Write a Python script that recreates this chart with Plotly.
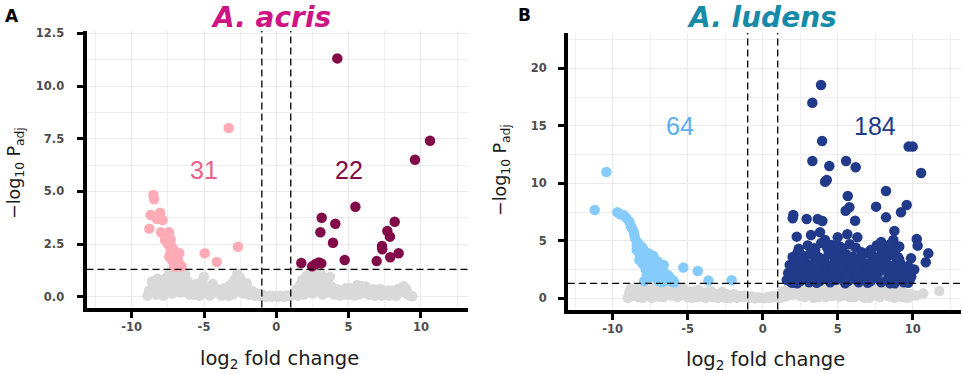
import plotly.graph_objects as go

# ---------------- data ----------------
a_ns = [(-8.9,0.05),(-8.7,0.2),(-8.6,0.72),(-8.5,0.45),(-8.3,0.1),(-8.1,0.35),(-7.9,0.6),(-7.8,0.05),
        (-7.6,0.9),(-7.5,0.3),(-7.4,1.1),(-7.3,0.6),(-7.2,0.15),(-7.1,0.85),(-7.0,1.2),(-6.9,0.4),
        (-6.8,1.0),(-6.7,0.7),(-6.6,0.2),(-6.5,0.9),(-6.4,0.5),(-6.3,1.05),(-6.2,0.3),(-6.1,0.7),
        (-6.0,0.1),(-5.8,0.45),(-5.6,0.25),(-5.5,0.6),(-5.3,0.05),(-5.1,0.75),(-5.0,0.95),(-4.9,0.4),
        (-4.7,0.15),(-4.5,0.5),(-4.4,0.62),(-4.2,0.2),(-4.0,0.35),(-3.8,0.05),(-3.6,0.4),(-3.4,0.2),
        (-3.2,0.55),(-3.0,0.1),(-2.9,0.8),(-2.8,0.35),(-2.7,1.1),(-2.6,0.6),(-2.5,0.9),(-2.4,0.2),
        (-2.2,0.45),(-2.05,0.64),(-1.9,0.1),(-1.7,0.3),(-1.5,0.05),(-1.3,0.15),(-1.1,0.02),(-0.9,0.08),
        (-0.7,0.0),(-0.5,0.05),(-0.3,0.0),(-0.1,0.03),(0.1,0.0),(0.3,0.04),(0.5,0.0),(0.7,0.06),
        (0.9,0.02),(1.1,0.1),(1.3,0.2),(1.5,0.05),(1.6,0.5),(1.7,0.25),(1.8,0.8),(1.9,0.1),(2.0,0.6),
        (2.1,1.0),(2.2,0.35),(2.3,0.75),(2.4,1.2),(2.5,0.15),(2.6,0.9),(2.7,0.5),(2.8,1.1),(2.9,0.3),
        (3.0,0.7),(3.1,1.05),(3.2,0.1),(3.3,0.55),(3.4,0.85),(3.5,0.2),(3.6,0.45),(3.7,0.95),(3.8,0.5),
        (4.0,0.1),(4.2,0.35),(4.4,0.05),(4.6,0.25),(4.8,0.4),(5.0,0.1),(5.2,0.3),(5.4,0.05),(5.6,0.55),
        (5.8,0.2),(6.0,0.4),(6.2,0.48),(6.4,0.1),(6.6,0.3),(6.8,0.05),(7.0,0.2),(7.2,0.35),(7.4,0.1),
        (7.6,0.25),(7.8,0.05),(8.0,0.3),(8.2,0.15),(8.4,0.35),(8.6,0.4),(8.8,0.5),(8.9,0.2),(9.1,0.1),
        (9.4,0.02),
        (-8.8,0.3),(-8.4,0.6),(-8.2,0.85),(-8.0,0.15),(-7.7,0.4),(-7.6,0.65),(-7.3,0.95),(-7.0,0.55),
        (-6.9,0.9),(-6.7,0.25),(-6.5,0.65),(-6.3,0.25),(-6.0,0.55),(-5.9,0.3),(-5.7,0.1),(-5.4,0.35),
        (-5.2,0.5),(-4.8,0.25),(-4.6,0.05),(-4.3,0.4),(-3.9,0.25),(-3.7,0.15),(-3.5,0.35),(-3.3,0.05),
        (-3.1,0.3),(-2.3,0.15),(-2.0,0.3),(-1.8,0.2),(-1.6,0.1),(1.4,0.35),(1.7,0.6),(2.0,0.2),
        (2.3,0.45),(2.6,0.6),(2.9,0.85),(3.2,0.4),(3.5,0.7),(3.9,0.3),(4.1,0.2),(4.3,0.15),(4.5,0.3),
        (4.7,0.1),(4.9,0.25),(5.1,0.4),(5.3,0.15),(5.5,0.3),(5.7,0.1),(5.9,0.5),(6.1,0.2),(6.3,0.25),
        (6.5,0.15),(6.7,0.35),(6.9,0.1),(7.1,0.3),(7.3,0.05),(7.5,0.2),(7.7,0.3),(7.9,0.1),(8.1,0.25),
        (8.3,0.05),(8.5,0.2),(8.7,0.3),(9.0,0.35),(9.25,0.05)]

a_down = [(-3.29,8.01),(-2.65,2.37),(-4.95,2.06),(-4.12,1.65),(-8.50,4.83),(-8.45,4.62),(-8.69,3.88),
          (-8.04,3.99),(-8.27,3.70),(-7.86,3.64),(-8.78,3.23),(-7.97,3.06),(-7.42,3.06),(-7.58,2.85),
          (-7.31,2.72),(-7.47,2.48),(-7.24,2.37),(-7.12,2.25),(-7.40,1.90),(-7.01,1.98),(-6.85,1.87),
          (-6.78,1.71),(-6.94,1.58),(-6.66,1.50),(-7.17,1.69),(-7.70,2.69),(-7.31,2.14),(-6.71,2.06),
          (-6.89,1.43),(-6.55,1.43),(-7.08,1.43)]

a_up = [(4.22,11.31),(10.63,7.40),(9.59,6.50),(5.47,4.27),(3.14,3.75),(4.08,3.46),(8.19,3.56),
        (3.05,3.06),(7.68,3.12),(7.86,2.85),(3.92,2.56),(7.31,2.41),(7.33,2.25),(8.46,2.06),
        (7.88,1.87),(4.73,1.74),(6.94,1.69),(1.73,1.60),(3.11,1.58),(2.94,1.62),(2.71,1.55),(2.48,1.44)]

b_ns = [(-9.0,0.05),(-8.8,0.85),(-8.7,0.3),(-8.5,0.6),(-8.3,0.1),(-8.1,0.9),(-7.9,0.45),(-7.7,0.75),
        (-7.5,0.2),(-7.3,1.0),(-7.1,0.55),(-6.9,0.15),(-6.7,0.8),(-6.5,0.4),(-6.3,1.05),(-6.1,0.25),
        (-5.9,0.7),(-5.7,0.1),(-5.5,0.5),(-5.3,0.85),(-5.1,0.2),(-4.9,0.6),(-4.7,0.05),(-4.5,0.4),
        (-4.3,0.75),(-4.1,0.15),(-3.9,0.5),(-3.7,0.3),(-3.5,0.65),(-3.3,0.1),(-3.1,0.4),(-2.9,0.2),
        (-2.7,0.55),(-2.5,0.05),(-2.3,0.3),(-2.1,0.15),(-1.9,0.35),(-1.7,0.05),(-1.5,0.2),(-1.3,0.1),
        (-1.1,0.25),(-0.9,0.05),(-0.7,0.15),(-0.5,0.0),(-0.3,0.1),(-0.1,0.05),(0.1,0.0),(0.3,0.12),
        (0.5,0.05),(0.7,0.2),(0.9,0.1),(1.1,0.3),(1.3,0.6),(1.5,0.15),(1.7,0.9),(1.9,0.4),(2.1,1.1),
        (2.3,0.7),(2.5,0.2),(2.7,0.95),(2.9,0.5),(3.1,1.15),(3.3,0.3),(3.5,0.8),(3.7,0.1),(3.9,1.0),
        (4.1,0.6),(4.3,0.25),(4.5,0.9),(4.7,0.45),(4.9,1.1),(5.1,0.15),(5.3,0.7),(5.5,1.0),(5.7,0.35),
        (5.9,0.85),(6.1,0.1),(6.3,0.6),(6.5,1.05),(6.7,0.3),(6.9,0.8),(7.1,0.05),(7.3,0.5),(7.5,0.95),
        (7.7,0.2),(7.9,0.7),(8.1,1.0),(8.3,0.4),(8.5,0.15),(8.7,0.8),(8.9,0.3),(9.1,0.6),(9.3,0.1),
        (9.5,0.45),(9.7,0.2),(9.9,0.35),(10.2,0.25),(10.71,0.43),(11.77,0.64),
        (-8.9,0.5),(-8.6,0.2),(-8.4,0.8),(-8.2,0.4),(-8.0,0.05),(-7.8,0.3),(-7.6,0.6),(-7.4,0.05),
        (-7.2,0.35),(-7.0,0.85),(-6.8,0.4),(-6.6,0.1),(-6.4,0.7),(-6.2,0.55),(-6.0,0.3),(-5.8,0.9),
        (-5.6,0.2),(-5.4,0.35),(-5.2,0.55),(-5.0,0.1),(-4.8,0.3),(-4.6,0.6),(-4.4,0.1),(-4.2,0.45),
        (-4.0,0.25),(-3.8,0.05),(-3.6,0.2),(-3.4,0.4),(-3.2,0.25),(-3.0,0.05),(-2.8,0.3),(-2.6,0.15),
        (-2.4,0.35),(-2.2,0.05),(-2.0,0.2),(1.2,0.05),(1.4,0.4),(1.6,0.2),(1.8,0.65),(2.0,0.3),
        (2.2,0.5),(2.4,0.9),(2.6,0.4),(2.8,0.1),(3.0,0.75),(3.2,0.5),(3.4,0.05),(3.6,0.55),(3.8,0.3),
        (4.0,0.7),(4.2,0.1),(4.4,0.5),(4.6,0.2),(4.8,0.75),(5.0,0.4),(5.2,0.95),(5.4,0.25),(5.6,0.6),
        (5.8,0.1),(6.0,0.5),(6.2,0.8),(6.4,0.25),(6.6,0.55),(6.8,0.05),(7.0,0.4),(7.2,0.75),(7.4,0.25),
        (7.6,0.6),(7.8,0.1),(8.0,0.4),(8.2,0.65),(8.4,0.2),(8.6,0.5),(8.8,0.05),(9.0,0.35),(9.2,0.7),
        (9.4,0.25),(9.6,0.05),(9.8,0.15)]

b_down = [(-10.42,10.98),(-11.2,7.68),(-9.69,7.48),(-9.29,7.25),(-8.89,6.67),(-8.73,6.14),(-8.56,5.51),
          (-8.4,4.64),(-8.0,4.35),(-8.22,3.33),(-7.84,3.77),(-7.62,3.04),(-7.29,3.48),(-7.73,2.03),
          (-7.07,2.75),(-6.84,2.32),(-6.62,2.03),(-6.29,1.59),(-6.07,1.45),(-5.29,2.67),(-4.33,2.38),
          (-3.62,1.54),(-2.07,1.57),(-9.5,7.3),(-9.1,7.0),(-8.8,6.3),(-8.6,5.8),(-8.5,5.2),(-8.3,4.8),
          (-8.1,4.5),(-7.9,4.1),(-7.8,3.6),(-7.6,3.9),(-7.5,3.3),(-7.4,2.9),(-7.3,2.6),(-7.2,2.2),
          (-7.1,3.0),(-7.0,2.5),(-6.9,2.1),(-6.8,1.8),(-6.7,2.6),(-6.6,2.3),(-6.5,1.9),(-6.4,1.6),
          (-7.7,1.7),(-7.6,2.3),(-7.8,2.5),(-8.0,3.0),(-8.2,3.8),(-7.4,1.9),(-6.95,1.5),(-6.3,2.0),
          (-6.0,1.6),(-5.9,1.4),(-8.4,4.2),(-7.3,3.7),(-7.0,3.2),(-6.6,2.9),(-6.2,1.8),(-7.9,1.5),
          (-6.7,1.4),(-6.9,2.8),(-7.5,2.0)]

b_up = [(3.89,18.55),(3.31,17.01),(3.96,13.68),(9.73,13.19),(10.0,13.19),(3.31,11.94),(4.44,11.51),
        (5.56,11.94),(6.2,11.39),(10.56,10.9),(4.16,10.14),(4.27,10.29),(8.22,9.33),(5.67,8.9),
        (9.6,8.12),(7.56,7.97),(5.78,7.91),(5.53,7.62),(9.22,7.48),(2.04,7.25),(2.0,6.96),(2.93,6.9),
        (3.67,6.9),(3.98,6.72),(6.16,6.75),(8.22,7.04),(8.78,5.86),(3.82,5.74),(10.27,5.16),
        (10.33,4.58),(2.27,5.36),(3.22,5.51),(5.0,5.3),(5.64,5.57),(6.31,5.3),(11.04,3.91),
        (10.87,3.13),(9.89,3.48),(8.49,1.3),(9.6,1.6),(9.2,2.99),(8.67,3.91),(8.71,5.07),(7.71,4.49),
        (3.44,4.35),(2.49,3.91),(4.16,5.07),(4.6,4.64),(5.16,4.49),
        (1.6,1.6),(1.9,1.4),(2.2,1.7),(2.5,1.5),(2.8,1.8),(3.1,1.4),(3.4,1.6),(3.8,1.5),(4.1,1.7),
        (4.5,1.4),(4.9,1.6),(5.3,1.8),(5.7,1.5),(6.1,1.7),(6.4,1.4),(6.8,1.6),(7.2,1.5),(7.5,1.8),
        (7.9,1.4),(8.3,1.6),(8.6,1.5),(9.0,1.7),(9.4,1.4),(9.8,1.6),
        (1.7,2.2),(2.0,2.4),(2.4,2.0),(2.7,2.3),(3.0,2.1),(3.3,2.5),(3.6,2.2),(4.0,2.0),(4.3,2.4),
        (4.6,2.3),(5.0,2.1),(5.4,2.2),(5.8,2.5),(6.2,2.0),(6.6,2.3),(7.0,2.4),(7.3,2.1),(7.7,2.2),
        (8.0,2.5),(8.4,2.0),(8.8,2.3),(9.2,2.1),(9.6,2.4),
        (1.8,2.9),(2.1,3.1),(2.6,2.7),(2.9,3.0),(3.2,2.8),(3.5,3.2),(3.9,2.9),(4.2,3.0),(4.5,2.7),
        (4.8,3.1),(5.1,2.8),(5.5,3.0),(5.9,2.9),(6.3,2.7),(6.7,3.1),(7.1,2.8),(7.4,3.2),(7.8,2.9),
        (8.1,3.0),(8.5,2.8),(8.9,3.1),(9.3,2.7),
        (2.0,3.6),(2.3,3.9),(2.7,3.5),(3.1,3.8),(3.4,4.0),(3.7,3.6),(4.1,3.4),(4.4,3.9),(4.7,3.7),
        (5.2,3.5),(5.6,3.8),(6.0,3.6),(6.5,3.4),(6.9,3.9),(7.3,3.7),(7.6,3.5),(8.0,4.0),(8.3,3.6),
        (8.7,3.8),(9.1,3.4),
        (2.4,4.3),(3.0,4.6),(3.5,4.2),(3.9,4.8),(4.3,4.4),(4.8,4.5),(5.3,4.3),(5.8,4.7),(6.2,4.4),
        (7.2,4.2),(7.6,4.6),(7.9,4.9),(8.2,4.4),(8.5,4.7),(8.9,4.3),
        (2.0,1.35),(2.3,1.3),(3.6,1.35),(5.5,1.3),(7.0,1.35),(8.8,1.3),(9.7,1.35),(1.9,2.0),
        (2.6,3.3),(3.2,2.4),(4.0,2.6),(4.4,1.9),(5.2,2.6),(5.6,2.0),(6.0,3.1),(6.4,2.5),(6.8,1.9),
        (7.4,2.7),(7.7,3.3),(8.2,2.6),(8.6,2.2),(9.0,3.6),(9.4,2.2),(9.7,2.8),(9.9,1.9),(10.1,2.5),
        (1.8,1.9),(2.2,2.7),(3.7,2.6),(4.9,3.8),(5.4,3.4),(6.6,4.0),(7.0,3.0),(7.9,3.8),(8.4,4.2),
        (9.1,4.5)]

labels_a = [("31", -5.0, 6.0), ("22", 5.0, 6.0)]
labels_b = [("64", -5.5, 15.0), ("184", 7.5, 15.0)]

titles = ["A. acris", "A. ludens"]
x_ticks = [-10, -5, 0, 5, 10]
x_ticktext = ["-10", "-5", "0", "5", "10"]
a_y_ticks = [0.0, 2.5, 5.0, 7.5, 10.0, 12.5]
a_y_ticktext = ["0.0", "2.5", "5.0", "7.5", "10.0", "12.5"]
b_y_ticks = [0, 5, 10, 15, 20]
b_y_ticktext = ["0", "5", "10", "15", "20"]
fc_cut = 1.0
p_cut = 1.301

# ---------------- styling ----------------
W, H = 962, 374
FONT = "Liberation Sans, Arial, sans-serif"
WIDE = "DejaVu Sans, Verdana, sans-serif"
GREY = "#D9D9D9"
COL_A_DOWN, COL_A_UP = "#FFABB5", "#820A48"
COL_B_DOWN, COL_B_UP = "#85CCFD", "#213B8A"
LAB_A = ["#E4638C", "#820A48"]
LAB_B = ["#5AAEEE", "#213B8A"]
TITLE_COL = ["#CC1482", "#168AA6"]

def xs(p): return [v[0] for v in p]
def ys(p): return [v[1] for v in p]

fig = go.Figure()
MS = 10.5

def add(points, color, xa, ya):
    fig.add_trace(go.Scatter(x=xs(points), y=ys(points), mode="markers",
                             marker=dict(size=MS, color=color, line=dict(width=0)),
                             xaxis=xa, yaxis=ya, showlegend=False, hoverinfo="skip"))

add(a_ns, GREY, "x", "y")
add(a_down, COL_A_DOWN, "x", "y")
add(a_up, COL_A_UP, "x", "y")
add(b_ns, GREY, "x2", "y2")
add(b_down, COL_B_DOWN, "x2", "y2")
add(b_up, COL_B_UP, "x2", "y2")

# pixel calibration of the two panels (layout geometry)
A = dict(l=86.5, r=468, t=31, b=307.5, x0=276.3, sx=14.46, y0=296.7, sy=21.07)
B = dict(l=568, r=961, t=33, b=309.5, x0=762.7, sx=15.0, y0=298.3, sy=11.5)

def xr(P): return [(P["l"] - P["x0"]) / P["sx"], (P["r"] - P["x0"]) / P["sx"]]
def yr(P): return [(P["y0"] - P["b"]) / P["sy"], (P["y0"] - P["t"]) / P["sy"]]
def xd(P): return [P["l"] / W, P["r"] / W]
def yd(P): return [1 - P["b"] / H, 1 - P["t"] / H]

tickfont = dict(family=WIDE, size=11.5, color="#4D4D4D", weight="bold")
common = dict(showline=True, linewidth=4, linecolor="black", ticks="outside", ticklen=6,
              tickwidth=3, tickcolor="black", showgrid=True, gridcolor="#EAEAEA", gridwidth=1,
              zeroline=False, tickfont=tickfont, fixedrange=True, automargin=False,
              tickmode="array")
minor_grid = dict(showgrid=True, gridcolor="#EFEFEF", ticks="")

fig.update_layout(
    template="none",
    width=W, height=H, margin=dict(l=0, r=0, t=0, b=0, pad=0),
    paper_bgcolor="white", plot_bgcolor="white",
    xaxis=dict(domain=xd(A), range=xr(A), anchor="y", tickvals=x_ticks, ticktext=x_ticktext,
               minor=dict(dtick=2.5, tick0=0, **minor_grid), **common),
    yaxis=dict(domain=yd(A), range=yr(A), anchor="x", tickvals=a_y_ticks, ticktext=a_y_ticktext,
               ticklabelstandoff=10, minor=dict(dtick=1.25, tick0=0, **minor_grid), **common),
    xaxis2=dict(domain=xd(B), range=xr(B), anchor="y2", tickvals=x_ticks, ticktext=x_ticktext,
                minor=dict(dtick=2.5, tick0=0, **minor_grid), **common),
    yaxis2=dict(domain=yd(B), range=yr(B), anchor="x2", tickvals=b_y_ticks, ticktext=b_y_ticktext,
                ticklabelstandoff=9, minor=dict(dtick=2.5, tick0=0, **minor_grid), **common),
)

# threshold lines
dash = dict(color="black", width=1.3, dash="7px,4px")
for xa, ya in (("x", "y"), ("x2", "y2")):
    for v in (-fc_cut, fc_cut):
        fig.add_shape(type="line", xref=xa, yref=ya + " domain", x0=v, x1=v, y0=0, y1=1,
                      line=dash, layer="above")
    fig.add_shape(type="line", xref=xa + " domain", yref=ya, x0=0, x1=1, y0=p_cut, y1=p_cut,
                  line=dash, layer="above")

# count labels
for (t, x, y), c in zip(labels_a, LAB_A):
    fig.add_annotation(x=x, y=y, xref="x", yref="y", text=t, showarrow=False,
                       font=dict(family=FONT, size=25, color=c))
for (t, x, y), c in zip(labels_b, LAB_B):
    fig.add_annotation(x=x, y=y, xref="x2", yref="y2", text=t, showarrow=False,
                       font=dict(family=FONT, size=25, color=c))

def pann(text, x, y, size, color, angle=0, family=WIDE, yanchor="middle", **kw):
    fig.add_annotation(x=x / W, y=1 - y / H, xref="paper", yref="paper", text=text,
                       showarrow=False, textangle=angle, xanchor="center", yanchor=yanchor,
                       borderpad=0, font=dict(family=family, size=size, color=color, **kw))

pann("A", 12, 16, 17, "black", weight="bold")
pann("B", 524, 15, 17, "black", weight="bold")
pann("<i>" + titles[0] + "</i>", 271, 0, 28, TITLE_COL[0], yanchor="top", weight="bold")
pann("<i>" + titles[1] + "</i>", 762, 0, 28, TITLE_COL[1], yanchor="top", weight="bold")
pann("log<sub>2</sub> fold change", 279, 359, 19.5, "#1A1A1A")
pann("log<sub>2</sub> fold change", 765, 360, 19.5, "#1A1A1A")
pann("\u2212log<sub>10</sub> P<sub>adj</sub>", 15, 173, 17.5, "#1A1A1A", angle=-90)
pann("\u2212log<sub>10</sub> P<sub>adj</sub>", 501, 170, 17.5, "#1A1A1A", angle=-90)

fig.write_html("out.html", config={"displayModeBar": False},
               post_script="document.body.style.margin='0';document.body.style.padding='0';")
